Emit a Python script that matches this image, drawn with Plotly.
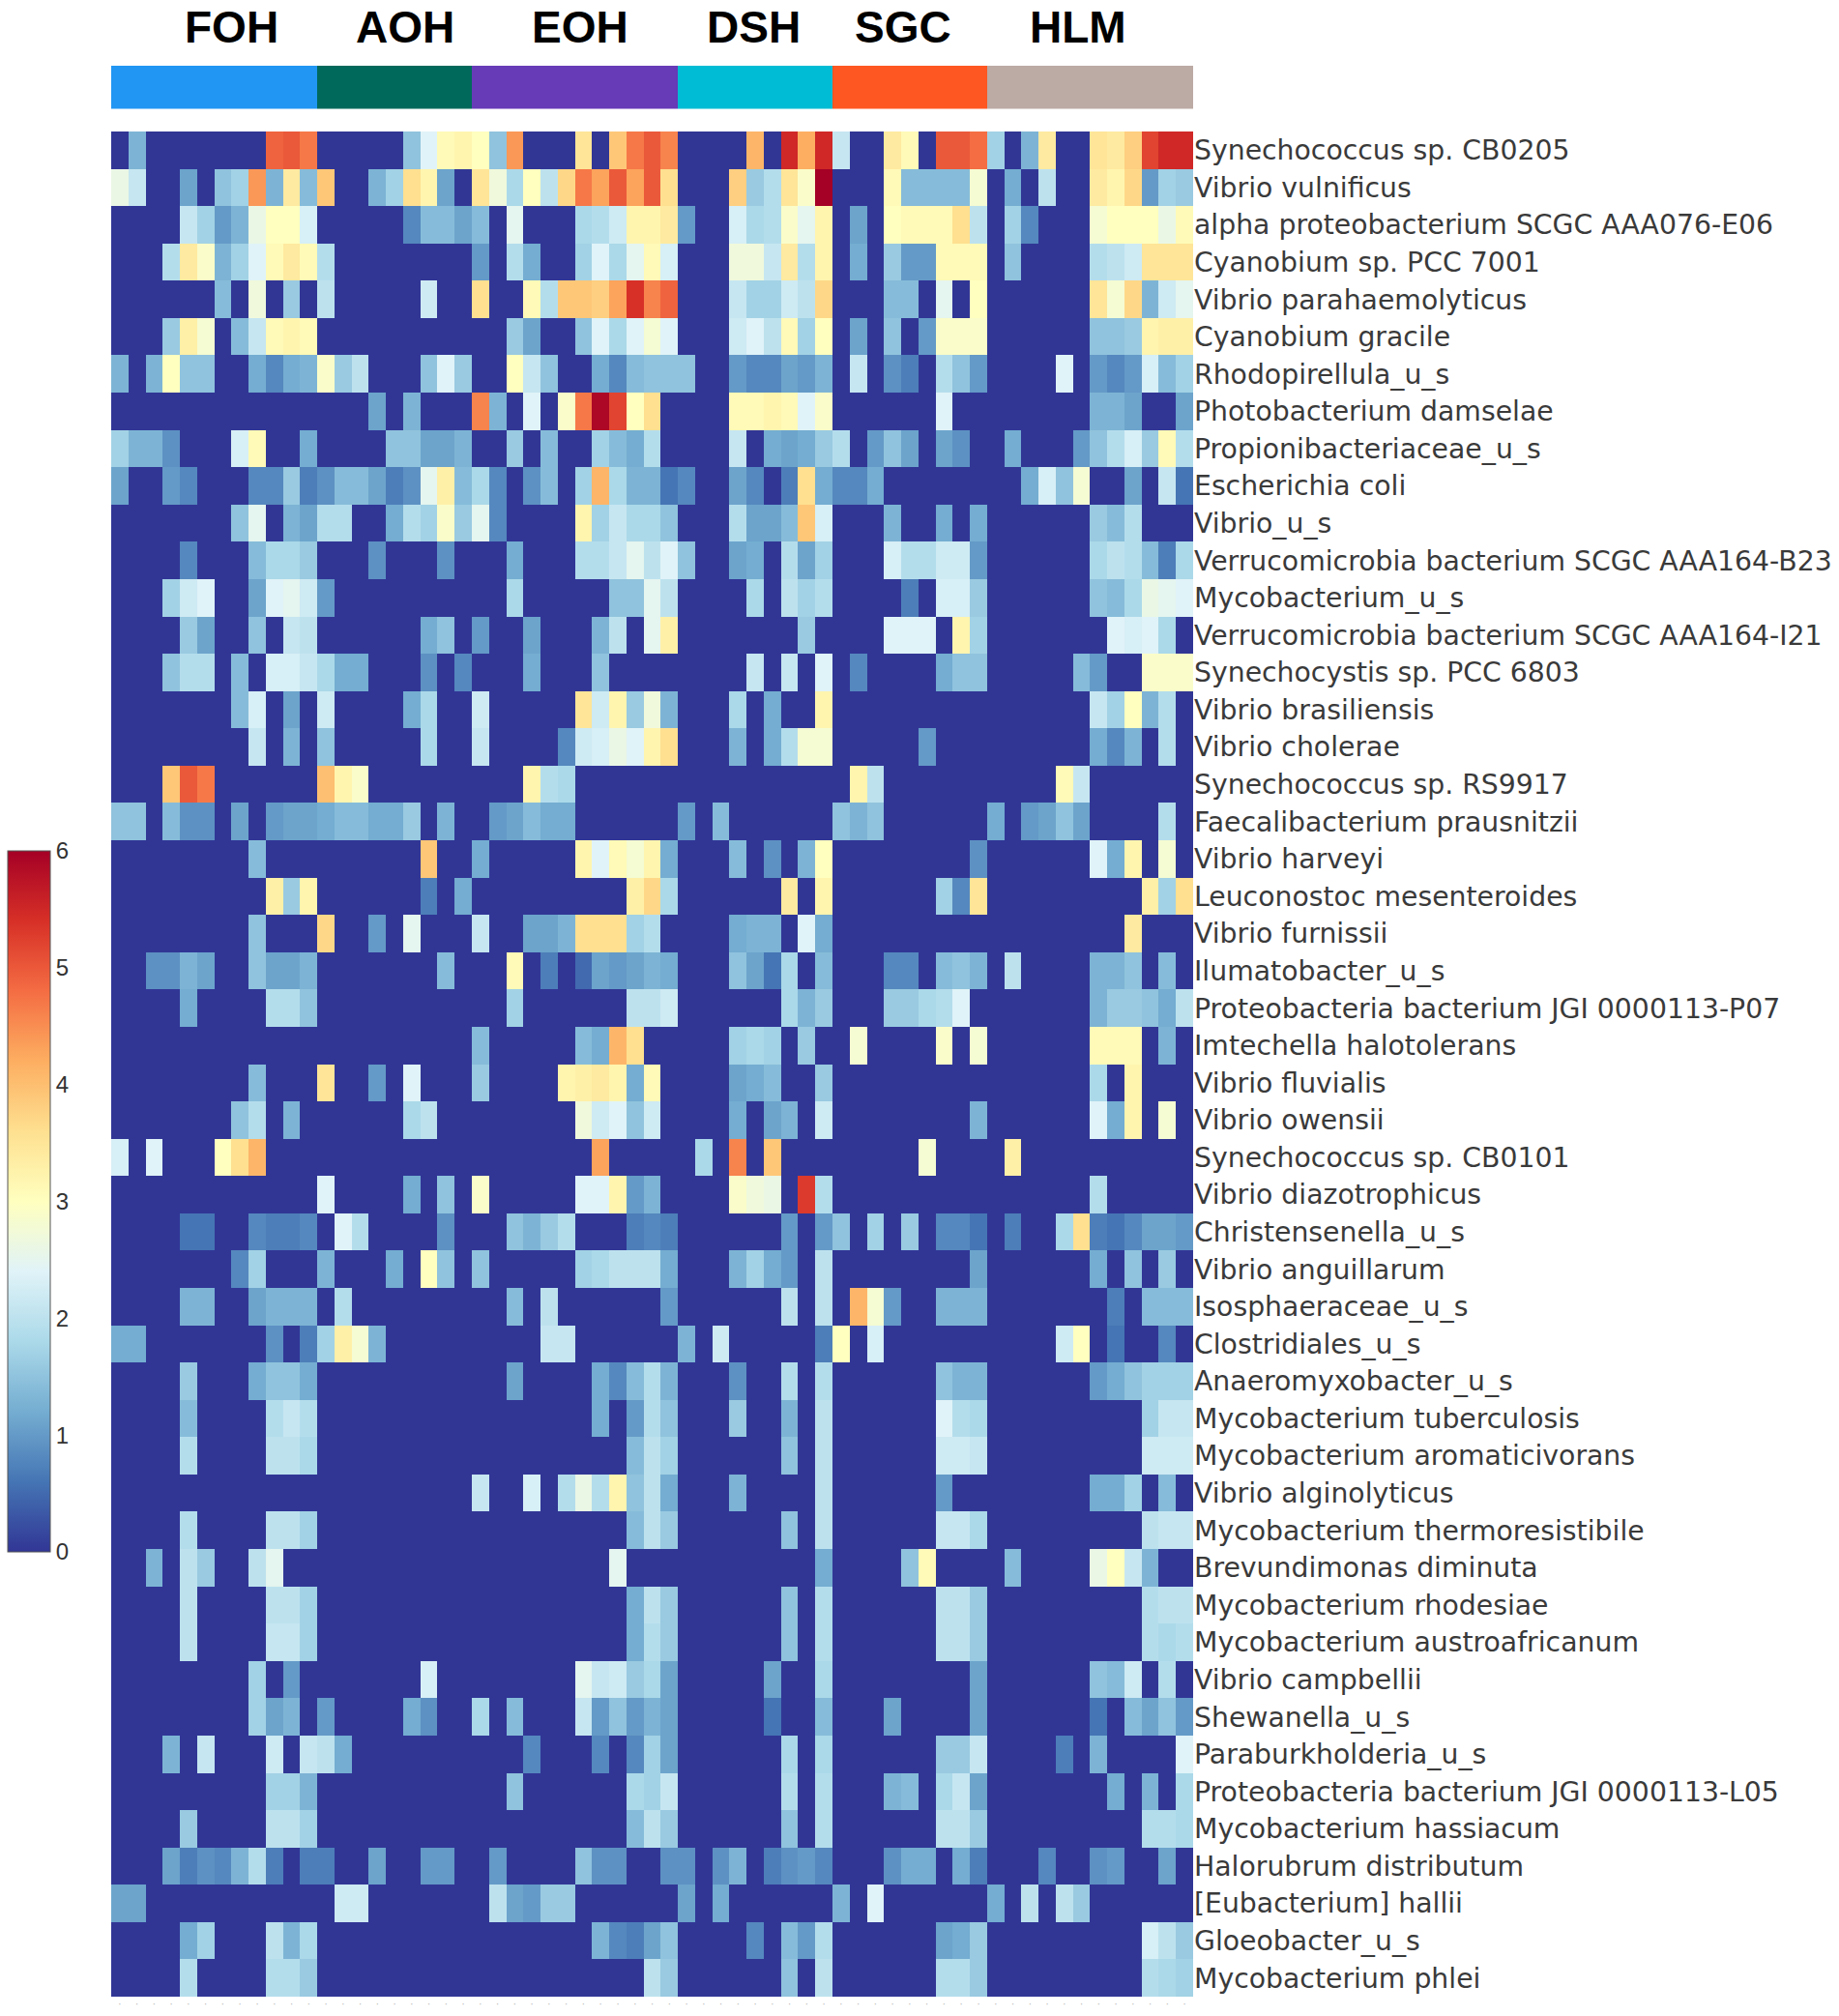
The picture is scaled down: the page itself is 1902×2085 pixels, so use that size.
import plotly.graph_objects as go

groups = ["FOH", "AOH", "EOH", "DSH", "SGC", "HLM"]
group_sizes = [12, 9, 12, 9, 9, 12]
group_colors = ["#2196F3", "#00695C", "#673AB7", "#00BCD4", "#FF5722", "#BCAAA4"]
group_centers = [6.5, 16.6, 26.8, 36.9, 45.6, 55.8]

species = [
    "Synechococcus sp. CB0205", "Vibrio vulnificus", "alpha proteobacterium SCGC AAA076-E06",
    "Cyanobium sp. PCC 7001", "Vibrio parahaemolyticus", "Cyanobium gracile", "Rhodopirellula_u_s",
    "Photobacterium damselae", "Propionibacteriaceae_u_s", "Escherichia coli", "Vibrio_u_s",
    "Verrucomicrobia bacterium SCGC AAA164-B23", "Mycobacterium_u_s",
    "Verrucomicrobia bacterium SCGC AAA164-I21", "Synechocystis sp. PCC 6803", "Vibrio brasiliensis",
    "Vibrio cholerae", "Synechococcus sp. RS9917", "Faecalibacterium prausnitzii", "Vibrio harveyi",
    "Leuconostoc mesenteroides", "Vibrio furnissii", "Ilumatobacter_u_s",
    "Proteobacteria bacterium JGI 0000113-P07", "Imtechella halotolerans", "Vibrio fluvialis",
    "Vibrio owensii", "Synechococcus sp. CB0101", "Vibrio diazotrophicus", "Christensenella_u_s",
    "Vibrio anguillarum", "Isosphaeraceae_u_s", "Clostridiales_u_s", "Anaeromyxobacter_u_s",
    "Mycobacterium tuberculosis", "Mycobacterium aromaticivorans", "Vibrio alginolyticus",
    "Mycobacterium thermoresistibile", "Brevundimonas diminuta", "Mycobacterium rhodesiae",
    "Mycobacterium austroafricanum", "Vibrio campbellii", "Shewanella_u_s", "Paraburkholderia_u_s",
    "Proteobacteria bacterium JGI 0000113-L05", "Mycobacterium hassiacum", "Halorubrum distributum",
    "[Eubacterium] hallii", "Gloeobacter_u_s", "Mycobacterium phlei",
]

# sample column -> abundance, one dict per species; absent columns are zero
abundance = [
{1:1.3,9:4.9,10:5.0,11:4.7,17:1.5,18:2.4,19:3.1,20:3.2,21:3.0,22:1.5,23:4.4,27:3.5,29:3.9,30:4.7,31:5.0,32:4.6,37:4.1,39:5.5,40:4.2,41:5.5,42:2.1,45:3.4,46:3.1,48:5.0,49:5.0,50:4.8,51:1.7,53:1.3,54:3.4,57:3.5,58:3.4,59:3.8,60:5.2,61:5.5,62:5.5},
{0:2.6,1:2.1,4:1.1,6:1.5,7:1.7,8:4.4,9:1.3,10:3.4,11:1.4,12:3.9,15:1.3,16:1.7,17:3.6,18:3.2,19:1.1,21:3.5,22:2.7,23:1.8,24:3.0,25:2.0,26:3.7,27:4.7,28:4.3,29:5.0,30:4.3,31:5.0,32:3.6,36:3.8,37:1.6,38:1.9,39:3.5,40:2.9,41:6.0,45:3.1,46:1.4,47:1.4,48:1.4,49:1.4,50:2.8,52:1.2,54:2.0,57:3.4,58:3.2,59:3.7,60:1.0,61:1.7,62:1.6},
{4:2.1,5:1.7,6:1.0,7:1.3,8:2.6,9:3.0,10:3.0,11:2.3,17:0.8,18:1.4,19:1.4,20:1.1,21:1.4,23:2.5,27:1.8,28:1.9,29:2.2,30:3.2,31:3.2,32:3.4,33:1.0,36:2.3,37:1.8,38:1.9,39:2.9,40:2.5,41:3.2,43:1.1,45:3.0,46:3.1,47:3.1,48:3.1,49:3.6,50:2.0,52:1.7,53:0.8,57:2.8,58:3.0,59:3.0,60:3.0,61:2.6,62:3.1},
{3:1.9,4:3.4,5:2.9,6:1.3,7:1.7,8:2.4,9:3.1,10:3.4,11:3.1,12:1.9,21:1.0,23:1.9,24:1.2,27:1.7,28:2.4,29:1.8,30:2.5,31:3.1,32:2.3,36:2.7,37:2.7,38:2.1,39:3.4,40:1.9,41:3.2,43:1.2,45:1.6,46:1.0,47:1.0,48:3.1,49:3.1,50:3.1,52:1.5,57:1.9,58:2.0,59:2.2,60:3.5,61:3.5,62:3.5},
{6:1.4,8:2.7,10:1.6,12:2.0,18:2.2,21:3.6,24:3.1,25:1.9,26:3.9,27:3.9,28:3.8,29:4.3,30:5.4,31:4.6,32:4.9,36:2.1,37:1.7,38:1.7,39:2.2,40:2.0,41:3.7,45:1.4,46:1.4,48:2.5,50:3.0,57:3.5,58:2.8,59:3.7,60:1.3,61:2.2,62:2.5},
{3:1.6,4:3.3,5:2.8,7:1.4,8:2.1,9:3.1,10:3.2,11:3.1,23:1.6,24:1.1,27:1.5,28:2.4,29:1.8,30:2.4,31:2.8,32:2.4,36:2.2,37:2.4,38:2.0,39:3.1,40:1.7,41:3.0,43:1.1,45:1.5,47:1.0,48:2.9,49:2.9,50:2.9,57:1.5,58:1.5,59:1.6,60:3.2,61:3.3,62:3.3},
{0:1.3,2:1.3,3:3.0,4:1.5,5:1.5,8:1.2,9:0.8,10:1.2,11:1.3,12:2.9,13:1.6,14:2.0,18:1.5,19:2.4,20:1.6,23:3.0,24:2.1,25:1.5,28:1.2,29:0.8,30:1.4,31:1.5,32:1.5,33:1.5,36:1.0,37:0.8,38:0.8,39:1.1,40:1.0,41:1.3,43:2.1,45:0.9,46:0.7,48:1.9,49:1.5,50:1.0,55:2.4,57:1.0,58:0.8,59:1.0,60:2.3,61:1.4,62:1.7},
{15:1.1,17:1.3,21:4.6,22:1.3,24:2.4,26:2.9,27:4.7,28:5.9,29:5.2,30:3.0,31:3.6,36:3.1,37:3.1,38:3.2,39:3.1,40:2.4,41:2.9,48:2.4,57:1.3,58:1.3,59:1.1,62:1.1},
{0:1.7,1:1.3,2:1.3,3:0.9,7:2.3,8:3.1,11:1.2,16:1.5,17:1.5,18:1.1,19:1.1,20:1.3,23:1.6,25:1.4,28:1.7,29:1.4,30:1.2,31:1.9,36:2.1,38:1.2,39:1.1,40:1.2,41:1.6,42:1.9,44:1.0,45:1.5,46:1.1,48:1.1,49:0.9,52:1.2,56:1.0,57:1.5,58:1.9,59:2.3,60:1.6,61:3.1,62:1.9},
{0:1.1,3:1.0,4:0.8,8:0.8,9:0.8,10:1.6,11:0.7,12:0.9,13:1.4,14:1.4,15:1.1,16:0.7,17:0.9,18:2.5,19:3.3,20:1.4,21:1.8,22:0.8,24:0.9,25:1.4,27:1.7,28:4.1,29:1.8,30:1.3,31:1.3,32:0.6,33:0.8,36:1.1,37:0.8,39:0.7,40:3.6,41:1.2,42:0.8,43:0.8,44:1.2,53:1.2,54:2.3,55:1.5,56:2.8,59:1.1,61:2.1,62:0.6},
{7:1.5,8:2.5,10:1.3,11:1.1,12:1.9,13:1.9,16:1.2,17:1.9,18:1.7,19:2.9,20:1.6,21:2.5,22:0.8,27:3.2,28:1.7,29:2.1,30:1.8,31:1.8,32:1.5,36:1.9,37:1.1,38:1.1,39:1.4,40:3.9,41:2.3,45:1.3,48:1.2,50:1.2,57:1.6,58:1.4,59:1.9},
{4:0.8,8:1.4,9:1.8,10:1.8,11:1.6,15:0.9,19:0.9,23:1.2,27:1.9,28:1.9,29:2.1,30:2.5,31:2.0,32:2.4,33:1.5,36:1.1,37:1.2,39:1.9,40:1.1,41:1.7,45:2.3,46:1.9,47:1.9,48:2.2,49:2.2,50:1.0,57:1.8,58:2.0,59:1.9,60:1.4,61:0.7,62:1.8},
{3:1.7,4:2.2,5:2.4,8:1.1,9:2.4,10:2.5,11:2.2,12:1.0,23:1.8,29:1.5,30:1.5,31:2.5,32:2.0,37:1.8,39:2.0,40:1.7,41:1.9,46:0.7,48:2.3,49:2.3,50:1.6,57:1.5,58:1.4,59:1.8,60:2.6,61:2.5,62:2.4},
{4:1.6,5:1.1,8:1.5,10:2.1,11:2.0,18:1.2,19:1.5,21:1.0,24:1.1,28:1.3,29:2.0,31:2.5,32:3.3,40:1.6,45:2.4,46:2.4,47:2.4,49:3.2,50:1.7,58:2.4,59:2.3,60:2.4,61:1.8},
{3:1.5,4:1.9,5:1.9,7:1.4,9:2.3,10:2.3,11:2.1,12:1.8,13:1.2,14:1.2,18:0.9,20:0.8,24:1.2,28:1.5,37:2.1,39:2.1,41:2.4,43:0.8,48:1.2,49:1.5,50:1.5,56:1.4,57:1.0,60:2.9,61:2.9,62:2.9},
{7:1.4,8:2.3,10:1.1,12:2.2,17:1.2,18:1.8,21:2.2,27:3.5,28:2.2,29:3.2,30:1.6,31:2.7,32:1.3,36:1.8,38:1.2,41:3.2,57:2.1,58:1.7,59:3.0,60:1.3,61:1.9},
{8:2.1,10:1.3,12:1.5,18:1.8,21:2.1,26:0.8,27:2.2,28:2.3,29:2.6,30:2.4,31:3.2,32:3.6,36:1.3,38:1.2,39:1.9,40:2.8,41:2.8,47:1.0,57:1.2,58:0.8,59:1.3,61:1.9},
{3:3.9,4:5.0,5:4.7,12:4.0,13:3.2,14:2.9,24:3.2,25:1.9,26:1.8,43:3.2,44:2.0,55:3.1,56:2.1},
{0:1.5,1:1.5,3:1.4,4:0.9,5:0.9,7:1.1,9:1.0,10:1.1,11:1.1,12:1.2,13:1.4,14:1.4,15:1.2,16:1.2,17:1.6,19:1.3,22:1.0,23:1.1,24:1.4,25:1.2,26:1.2,33:1.0,35:1.4,42:1.5,43:1.3,44:1.5,51:1.2,53:1.0,54:1.1,55:1.5,56:1.1,61:1.9},
{8:1.4,18:3.9,21:1.2,27:3.2,28:2.4,29:3.1,30:2.8,31:3.2,32:1.2,36:1.4,38:0.9,40:1.3,41:3.0,50:0.9,57:2.4,58:1.2,59:3.2,61:2.8},
{9:3.3,10:1.6,11:3.2,18:0.7,20:1.2,30:3.3,31:3.7,32:1.8,39:3.4,41:3.2,48:1.7,49:0.8,50:3.5,60:3.3,61:1.7,62:3.6},
{8:1.5,12:3.7,15:1.0,17:2.5,21:2.1,24:1.1,25:1.1,26:1.3,27:3.6,28:3.6,29:3.6,30:1.7,31:1.9,36:1.2,37:1.3,38:1.3,40:2.4,41:1.2,59:3.4},
{2:0.9,3:0.9,4:1.3,5:1.1,8:1.5,9:1.1,10:1.1,11:1.3,19:1.4,23:3.1,25:0.7,27:0.5,28:1.1,29:1.0,30:1.1,31:1.3,32:1.2,36:1.5,37:1.1,38:0.6,39:1.8,41:1.4,45:0.8,46:0.8,48:1.4,49:1.5,50:1.3,52:2.0,57:1.3,58:1.3,59:1.5,61:1.4},
{4:1.2,9:1.9,10:1.9,11:1.5,23:1.7,30:2.0,31:2.0,32:2.2,39:1.8,40:1.3,41:1.6,45:1.6,46:1.6,47:1.8,48:1.9,49:2.4,57:1.3,58:1.6,59:1.6,60:1.5,61:1.2,62:2.0},
{21:1.4,27:1.4,28:1.2,29:4.1,30:3.6,36:1.7,37:1.8,38:1.7,40:1.6,43:2.8,48:2.9,50:2.8,57:3.1,58:3.1,59:3.1,61:1.3},
{8:1.4,12:3.5,15:1.0,17:2.4,21:1.6,26:3.2,27:3.3,28:3.4,29:3.2,30:1.2,31:3.1,36:1.1,37:1.2,38:1.4,41:1.6,57:1.8,59:3.2},
{7:1.5,8:1.9,10:1.3,17:1.8,18:2.0,27:2.7,28:2.2,29:2.4,30:1.5,31:2.2,36:1.2,38:1.1,39:1.3,41:2.2,50:1.3,57:2.4,58:1.2,59:3.2,61:2.8},
{0:2.3,2:2.4,6:3.0,7:3.6,8:4.1,28:4.3,34:1.8,36:4.6,38:3.9,47:2.8,52:3.3},
{12:2.4,17:1.2,19:1.5,21:2.9,27:2.4,28:2.4,29:3.2,30:1.0,31:1.3,36:2.9,37:2.7,38:2.6,40:5.3,41:1.9,57:1.9},
{4:0.6,5:0.6,8:0.8,9:0.7,10:0.7,11:0.8,13:2.4,14:1.9,19:0.9,23:1.5,24:1.3,25:1.6,26:1.9,30:0.7,31:0.8,32:0.7,39:1.0,41:1.0,42:1.5,44:1.7,46:1.6,48:0.8,49:0.8,50:0.6,52:0.7,55:1.8,56:3.6,57:0.7,58:0.6,59:0.8,60:1.1,61:1.1,62:1.0},
{7:0.8,8:1.7,12:1.3,16:1.2,18:3.0,19:1.5,21:1.5,27:1.7,28:1.8,29:2.0,30:2.0,31:2.0,32:1.2,36:1.3,37:1.7,38:1.2,39:1.0,41:2.0,50:1.1,57:1.2,59:1.5,61:1.6},
{4:1.3,5:1.3,8:1.1,9:1.3,10:1.3,11:1.3,13:1.9,23:1.4,25:2.0,32:1.0,39:2.0,41:2.0,43:4.1,44:2.8,45:1.0,48:1.3,49:1.3,50:1.3,58:0.7,60:1.4,61:1.4,62:1.4},
{0:1.2,1:1.2,9:0.9,11:0.7,12:1.7,13:3.3,14:2.8,15:1.3,25:2.1,26:2.1,33:1.3,35:2.2,41:0.7,42:3.0,44:2.3,55:2.2,56:3.0,58:0.6,61:0.8},
{4:1.6,8:1.2,9:1.5,10:1.5,11:1.2,23:1.1,28:1.2,29:0.8,30:1.4,31:1.9,32:1.3,36:0.9,39:1.9,41:1.9,48:1.5,49:1.3,50:1.3,57:1.0,58:1.2,59:1.5,60:1.7,61:1.7,62:1.7},
{4:1.4,9:1.9,10:2.1,11:1.9,28:1.2,30:1.0,31:1.9,32:1.5,36:1.6,39:1.3,41:2.0,48:2.4,49:1.9,50:1.8,60:1.7,61:2.1,62:2.1},
{4:1.9,9:2.0,10:2.0,11:1.8,30:1.4,31:2.0,32:1.7,39:1.5,41:2.0,48:2.2,49:2.2,50:2.1,60:2.2,61:2.2,62:2.2},
{21:2.1,24:2.3,26:1.9,27:2.6,28:1.9,29:3.2,30:1.5,31:2.0,32:1.2,36:1.3,41:2.0,48:1.0,57:1.2,58:1.2,59:1.7,61:1.4},
{4:1.9,9:2.0,10:2.0,11:1.7,30:1.4,31:2.0,32:1.6,39:1.5,41:2.0,48:2.1,49:2.1,50:1.8,60:2.0,61:2.1,62:2.1},
{2:1.3,4:2.0,5:1.6,8:2.0,9:2.5,29:2.5,41:1.2,46:1.5,47:3.1,52:1.4,57:2.6,58:3.0,59:2.1,60:1.3},
{4:2.0,9:2.0,10:2.0,11:1.7,30:1.2,31:2.0,32:1.6,39:1.5,41:1.9,48:2.0,49:2.0,50:1.6,60:1.9,61:2.0,62:2.0},
{4:2.0,9:2.1,10:2.1,11:1.7,30:1.2,31:1.9,32:1.6,39:1.5,41:1.9,48:2.0,49:2.0,50:1.6,60:1.9,61:1.8,62:1.9},
{8:1.7,10:1.0,18:2.3,27:2.5,28:2.1,29:2.2,30:1.6,31:1.8,32:1.1,38:1.1,41:1.8,50:1.1,57:1.5,58:1.4,59:2.2,61:1.9},
{8:1.7,9:1.1,10:1.3,12:1.0,17:1.2,18:0.9,21:1.8,23:1.4,27:2.1,28:1.0,29:1.5,30:1.0,31:1.3,32:1.1,38:0.6,41:1.4,45:1.1,50:1.1,57:0.6,59:1.4,60:1.1,61:1.5,62:1.0},
{3:1.3,5:2.1,9:2.2,11:2.1,12:2.0,13:1.2,24:0.8,28:0.8,30:0.8,31:1.7,32:1.1,39:1.8,41:1.8,48:1.6,49:1.6,50:2.1,55:0.7,57:1.3,62:2.4},
{9:1.7,10:1.7,11:1.3,23:1.5,30:1.8,31:1.7,32:2.1,39:1.9,41:1.9,45:1.3,46:1.4,48:1.8,49:2.1,50:1.1,58:1.2,60:1.3,62:1.8},
{4:1.6,9:2.0,10:2.0,11:1.7,30:1.4,31:2.0,32:1.6,39:1.5,41:1.9,48:2.0,49:2.0,50:1.6,60:1.9,61:1.9,62:1.8},
{3:1.1,4:0.7,5:0.9,6:0.8,7:1.3,8:1.9,9:0.7,11:0.7,12:0.7,15:1.1,18:1.0,19:1.0,22:1.0,27:1.5,28:0.9,29:0.9,32:0.9,33:0.9,35:0.9,36:1.3,38:0.7,39:0.9,40:1.0,41:0.8,45:0.9,46:1.2,47:1.2,49:1.2,50:0.7,54:0.8,57:0.9,58:1.0,61:1.1},
{0:1.1,1:1.1,13:2.2,14:2.2,22:2.0,23:1.1,24:1.0,25:1.6,26:1.6,33:1.1,35:1.2,42:1.3,44:2.4,51:1.2,53:2.0,55:2.0,56:1.6},
{4:1.2,5:1.7,9:2.0,10:1.3,11:1.8,28:1.3,29:0.8,30:0.7,31:1.1,32:1.5,37:0.8,39:1.4,40:1.0,41:1.9,48:1.1,49:1.2,50:1.6,60:2.3,61:2.0,62:1.6},
{4:1.9,9:1.9,10:1.9,11:1.6,31:2.0,32:1.6,39:1.5,41:2.0,48:1.9,49:1.9,50:1.6,60:1.9,61:1.8,62:1.7},
]

n_cols = sum(group_sizes)
columns = list(range(n_cols))
matrix = [[row.get(c, 0) for c in columns] for row in abundance]
band = [[i for i, size in enumerate(group_sizes) for _ in range(size)]]

W, H = 1902, 2085
RdYlBu_r = ["#313695", "#4575b4", "#74add1", "#abd9e9", "#e0f3f8", "#ffffbf",
            "#fee090", "#fdae61", "#f46d43", "#d73027", "#a50026"]
scale = [[i / 10, c] for i, c in enumerate(RdYlBu_r)]
band_scale = []
for i, c in enumerate(group_colors):
    band_scale += [[i / 6, c], [(i + 1) / 6, c]]

fig = go.Figure()
fig.add_trace(go.Heatmap(
    z=matrix, x=columns, y=species, zmin=0, zmax=6, colorscale=scale, xaxis="x", yaxis="y",
    colorbar=dict(
        x=8 / W, xanchor="left", xpad=0, y=1 - 880 / H, yanchor="top", ypad=0,
        lenmode="pixels", len=725, thicknessmode="pixels", thickness=44,
        outlinecolor="#555555", outlinewidth=1, tickvals=[0, 1, 2, 3, 4, 5, 6], ticks="",
        tickfont=dict(family="Liberation Sans", size=24, color="#333333"),
    ),
))
fig.add_trace(go.Heatmap(
    z=band, x=columns, y=["group"], zmin=-0.5, zmax=5.5, colorscale=band_scale, showscale=False,
    xaxis="x", yaxis="y2", hoverinfo="skip",
))
for name, center in zip(groups, group_centers):
    fig.add_annotation(
        x=center, y=1 - 28 / H, xref="x", yref="paper", yanchor="middle", text=f"<b>{name}</b>",
        showarrow=False, borderpad=0, font=dict(family="Liberation Sans", size=46, color="#000000"),
    )

fig.update_layout(
    width=W, height=H, margin=dict(l=0, r=0, t=0, b=0), paper_bgcolor="white", plot_bgcolor="white",
    font=dict(family="DejaVu Sans", color="#444444"),
    xaxis=dict(domain=[115 / W, 1234 / W], range=[-0.5, n_cols - 0.5], tickvals=columns,
               ticktext=["·"] * n_cols, tickfont=dict(size=10, color="#bbbbbb"), ticks="",
               showgrid=False, zeroline=False, anchor="y"),
    yaxis=dict(domain=[(H - 2065) / H, (H - 136) / H], autorange="reversed", side="right",
               tickmode="array", tickvals=species, ticktext=species, ticks="", showgrid=False,
               zeroline=False, tickfont=dict(family="DejaVu Sans", size=28.3, color="#3a3a3a"), anchor="x"),
    yaxis2=dict(domain=[(H - 112.5) / H, (H - 68) / H], showticklabels=False, ticks="", showgrid=False,
                zeroline=False, anchor="x"),
)

fig.write_html("out.html", config={"displayModeBar": False}, post_script="document.body.style.margin='0';")
